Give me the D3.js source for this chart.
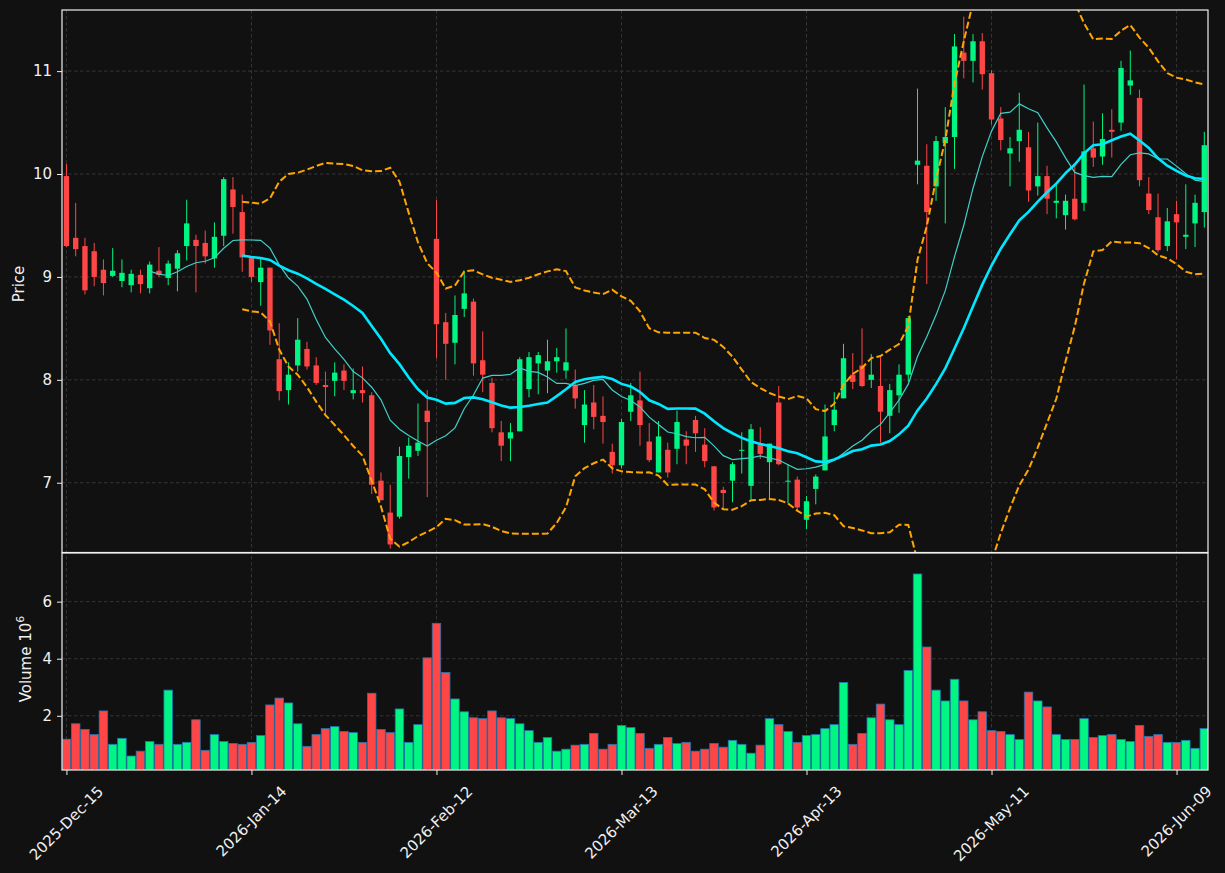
<!DOCTYPE html>
<html>
<head>
<meta charset="utf-8">
<script src="https://cdn.jsdelivr.net/npm/d3@7"></script>
<style>
  body { margin: 0; background: #111111; }
  text { font-family: "DejaVu Sans", sans-serif; }
</style>
</head>
<body>
<svg id="chart" width="1225" height="873"></svg>
<script>
// ticks every 20 trading days
const tickIndex = [0, 20, 40, 60, 80, 100, 120]
const tickLabels = ['2025-Dec-15', '2026-Jan-14', '2026-Feb-12', '2026-Mar-13', '2026-Apr-13', '2026-May-11', '2026-Jun-09']

const opens = [9.98, 9.38, 9.30, 9.25, 9.07, 9.01, 8.96, 8.92, 9.02, 8.89,
  9.06, 8.99, 9.08, 9.30, 9.36, 9.33, 9.18, 9.40, 9.85, 9.63,
  9.19, 8.95, 9.09, 8.20, 7.90, 8.14, 8.30, 8.14, 7.95, 7.99,
  8.09, 7.87, 7.90, 7.85, 7.02, 6.71, 6.67, 7.25, 7.31, 7.70,
  9.37, 8.56, 8.36, 8.69, 8.76, 8.19, 7.97, 7.49, 7.43, 7.50,
  7.91, 8.16, 8.09, 8.18, 8.09, 7.94, 7.56, 7.78, 7.65, 7.30,
  7.17, 7.69, 7.80, 7.40, 7.10, 7.32, 7.33, 7.42, 7.61, 7.37,
  7.16, 6.93, 7.02, 7.31, 6.97, 7.37, 7.20, 7.78, 7.01, 7.03,
  6.64, 6.94, 7.12, 7.56, 7.82, 8.05, 8.14, 8.00, 7.94, 7.65,
  7.85, 8.05, 10.09, 10.08, 9.88, 10.30, 10.36, 11.18, 11.10, 11.29,
  10.98, 10.54, 10.20, 10.32, 10.26, 9.88, 9.98, 9.72, 9.60, 9.76,
  9.72, 10.25, 10.17, 10.43, 10.50, 10.86, 10.74, 9.81, 9.58, 9.30,
  9.61, 9.39, 9.52, 9.63]
const highs = [10.10, 9.72, 9.38, 9.33, 9.17, 9.28, 9.17, 9.07, 9.07, 9.15,
  9.29, 9.16, 9.26, 9.75, 9.41, 9.45, 9.53, 9.97, 9.97, 9.80,
  9.20, 9.18, 9.09, 8.55, 8.17, 8.60, 8.37, 8.22, 8.08, 8.17,
  8.15, 8.11, 8.13, 7.88, 7.10, 6.98, 7.35, 7.44, 7.77, 7.90,
  9.75, 8.65, 8.82, 9.06, 8.79, 8.47, 8.02, 7.60, 7.58, 8.22,
  8.27, 8.27, 8.39, 8.31, 8.50, 8.10, 7.90, 7.95, 7.84, 7.38,
  7.62, 7.97, 8.08, 7.58, 7.60, 7.39, 7.70, 7.50, 7.65, 7.53,
  7.16, 6.96, 7.20, 7.49, 7.57, 7.54, 7.38, 7.94, 7.18, 7.06,
  6.87, 7.08, 7.76, 7.88, 8.35, 8.26, 8.50, 8.25, 8.22, 7.96,
  8.15, 8.62, 10.83, 10.29, 10.37, 10.65, 11.36, 11.53, 11.36, 11.37,
  11.01, 10.65, 10.36, 10.79, 10.41, 10.50, 10.08, 9.90, 9.80, 10.08,
  10.87, 10.51, 10.59, 10.63, 11.10, 11.20, 10.82, 9.97, 9.81, 9.67,
  9.74, 9.90, 9.80, 10.41]
const lows = [9.29, 9.20, 8.83, 8.91, 8.82, 9.00, 8.90, 8.85, 8.84, 8.84,
  9.00, 8.92, 8.86, 9.16, 8.85, 9.13, 9.09, 9.30, 9.42, 9.05,
  8.95, 8.72, 8.34, 7.80, 7.76, 8.08, 8.10, 7.95, 7.67, 7.84,
  7.90, 7.81, 7.78, 6.89, 6.83, 6.36, 6.65, 7.04, 7.26, 6.86,
  8.21, 8.00, 8.15, 8.61, 8.04, 7.88, 7.49, 7.21, 7.21, 7.50,
  7.83, 7.86, 7.87, 8.07, 8.01, 7.72, 7.39, 7.52, 7.38, 7.09,
  7.14, 7.60, 7.36, 7.20, 7.10, 7.05, 7.18, 7.18, 7.30, 7.15,
  6.73, 6.74, 6.81, 7.09, 6.84, 7.23, 6.83, 7.17, 6.80, 6.72,
  6.55, 6.79, 7.12, 7.50, 7.82, 7.91, 7.93, 7.92, 7.39, 7.48,
  7.68, 7.98, 9.90, 8.93, 9.74, 9.52, 10.05, 10.93, 10.89, 10.82,
  10.48, 10.23, 9.88, 10.12, 9.73, 9.79, 9.61, 9.57, 9.46, 9.55,
  9.64, 10.07, 10.09, 10.16, 10.42, 10.77, 9.88, 9.61, 9.24, 9.25,
  9.17, 9.27, 9.29, 9.48]
const closes = [9.30, 9.27, 8.87, 9.00, 8.94, 9.06, 9.04, 9.03, 8.93, 9.12,
  9.02, 9.13, 9.23, 9.52, 9.30, 9.20, 9.39, 9.95, 9.68, 9.19,
  9.00, 9.09, 8.48, 7.89, 8.05, 8.39, 8.13, 7.97, 7.93, 8.07,
  7.99, 7.90, 7.87, 6.98, 6.83, 6.40, 7.26, 7.36, 7.39, 7.59,
  8.54, 8.35, 8.63, 8.84, 8.16, 8.05, 7.53, 7.36, 7.49, 8.20,
  8.22, 8.24, 8.18, 8.22, 8.17, 7.82, 7.76, 7.64, 7.59, 7.17,
  7.59, 7.85, 7.56, 7.22, 7.45, 7.10, 7.59, 7.36, 7.48, 7.21,
  6.76, 6.90, 7.18, 7.32, 7.52, 7.28, 7.38, 7.18, 7.02, 6.76,
  6.82, 7.06, 7.45, 7.71, 8.21, 7.98, 7.94, 8.05, 7.69, 7.90,
  8.05, 8.60, 10.13, 9.63, 10.32, 10.36, 11.24, 11.10, 11.29, 10.97,
  10.53, 10.33, 10.25, 10.43, 9.84, 9.98, 9.76, 9.74, 9.74, 9.56,
  10.22, 10.16, 10.34, 10.41, 11.03, 10.91, 9.94, 9.65, 9.26, 9.54,
  9.53, 9.41, 9.72, 10.28]
// volume in millions
const volumes = [1.18, 1.72, 1.52, 1.34, 2.17, 1.00, 1.21, 0.59, 0.76, 1.10,
  1.00, 2.90, 1.00, 1.07, 1.86, 0.79, 1.34, 1.10, 1.03, 1.00,
  1.07, 1.31, 2.38, 2.62, 2.45, 1.72, 0.93, 1.34, 1.55, 1.62,
  1.45, 1.41, 1.07, 2.79, 1.52, 1.41, 2.24, 1.07, 1.69, 4.03,
  5.24, 3.52, 2.59, 2.14, 1.93, 1.90, 2.17, 1.93, 1.90, 1.72,
  1.48, 1.07, 1.24, 0.76, 0.83, 0.97, 1.00, 1.38, 0.83, 1.00,
  1.66, 1.59, 1.38, 0.86, 1.00, 1.24, 1.03, 1.07, 0.76, 0.83,
  1.03, 0.90, 1.14, 1.00, 0.69, 0.97, 1.90, 1.69, 1.45, 1.07,
  1.31, 1.34, 1.55, 1.69, 3.17, 1.00, 1.38, 1.93, 2.41, 1.86,
  1.69, 3.59, 6.97, 4.41, 2.90, 2.52, 3.28, 2.52, 1.86, 2.14,
  1.48, 1.45, 1.34, 1.17, 2.83, 2.52, 2.31, 1.34, 1.17, 1.17,
  1.90, 1.24, 1.31, 1.34, 1.17, 1.10, 1.66, 1.28, 1.34, 1.07,
  1.07, 1.14, 0.86, 1.55]

const upColor = '#00f582'
const downColor = '#ff4646'
const textColor = '#f0f0f0'
const gridColor = '#3a3a3a'
const fontSize = 15

const svg = d3.select('#chart')
svg.append('rect').attr('width', 1225).attr('height', 873).attr('fill', '#111111')

const left = 62, right = 1208
const priceTop = 10, priceBottom = 552.5
const volTop = 553, volBottom = 770

const n = closes.length
const x = d3.scaleLinear().domain([-0.48, 123.4]).range([left, right])
const step = x(1) - x(0)
const yP = d3.scaleLinear().domain([6.322, 11.594]).range([priceBottom, priceTop])
const yV = d3.scaleLinear().domain([0.1, 7.705]).range([volBottom, volTop])

// rolling indicators from closes
function rolling(period, fn) {
  return closes.map((c, i) => {
    if (i < period - 1) return null
    return fn(closes.slice(i - period + 1, i + 1))
  })
}
const ma10 = rolling(10, w => d3.mean(w))
const ma20 = rolling(20, w => d3.mean(w))
const sd20 = rolling(20, w => {
  let m = d3.mean(w)
  return Math.sqrt(d3.mean(w, v => (v - m) * (v - m)))
})
const upper = ma20.map((m, i) => m === null ? null : m + 2 * sd20[i])
const lower = ma20.map((m, i) => m === null ? null : m - 2 * sd20[i])

let defs = svg.append('defs')
defs.append('clipPath').attr('id', 'clipPrice')
  .append('rect').attr('x', left).attr('y', priceTop)
  .attr('width', right - left).attr('height', priceBottom - priceTop)
defs.append('clipPath').attr('id', 'clipVol')
  .append('rect').attr('x', left).attr('y', volTop)
  .attr('width', right - left).attr('height', volBottom - volTop)

// grid
let grid = svg.append('g').attr('stroke', gridColor).attr('stroke-width', 0.9)
  .attr('stroke-dasharray', '3.5,2.5')
grid.selectAll('line.vx').data(tickIndex).join('line')
  .attr('x1', d => x(d)).attr('x2', d => x(d))
  .attr('y1', priceTop).attr('y2', volBottom)
grid.selectAll('line.hp').data([7, 8, 9, 10, 11]).join('line').attr('class', 'hp')
  .attr('x1', left).attr('x2', right)
  .attr('y1', d => yP(d)).attr('y2', d => yP(d))
grid.selectAll('line.hv').data([2, 4, 6]).join('line').attr('class', 'hv')
  .attr('x1', left).attr('x2', right)
  .attr('y1', d => yV(d)).attr('y2', d => yV(d))

const isUp = i => closes[i] >= opens[i]

// candles
let pricePanel = svg.append('g').attr('clip-path', 'url(#clipPrice)')
let candles = pricePanel.selectAll('g.candle').data(d3.range(n)).join('g')
  .attr('class', 'candle')
candles.append('line')
  .attr('x1', i => x(i)).attr('x2', i => x(i))
  .attr('y1', i => yP(highs[i])).attr('y2', i => yP(lows[i]))
  .attr('stroke', i => isUp(i) ? upColor : downColor)
  .attr('stroke-width', 1)
const bodyW = step * 0.58
candles.append('rect')
  .attr('x', i => x(i) - bodyW / 2)
  .attr('width', bodyW)
  .attr('y', i => yP(Math.max(opens[i], closes[i])))
  .attr('height', i => Math.max(1, Math.abs(yP(opens[i]) - yP(closes[i]))))
  .attr('fill', i => isUp(i) ? upColor : downColor)

// indicator lines
const line = d3.line()
  .defined(d => d[1] !== null)
  .x(d => x(d[0]))
  .y(d => yP(d[1]))
const pts = arr => arr.map((v, i) => [i, v])

pricePanel.append('path').attr('d', line(pts(upper)))
  .attr('fill', 'none').attr('stroke', '#ffa500').attr('stroke-width', 2)
  .attr('stroke-dasharray', '7,3')
pricePanel.append('path').attr('d', line(pts(lower)))
  .attr('fill', 'none').attr('stroke', '#ffa500').attr('stroke-width', 2)
  .attr('stroke-dasharray', '7,3')
pricePanel.append('path').attr('d', line(pts(ma10)))
  .attr('fill', 'none').attr('stroke', '#3fd0c9').attr('stroke-width', 1.2)
pricePanel.append('path').attr('d', line(pts(ma20)))
  .attr('fill', 'none').attr('stroke', '#00e8ff').attr('stroke-width', 2.6)

// volume
const volW = step * 0.92
svg.append('g').attr('clip-path', 'url(#clipVol)')
  .selectAll('rect').data(d3.range(n)).join('rect')
  .attr('x', i => x(i) - volW / 2)
  .attr('width', volW)
  .attr('y', i => yV(volumes[i]))
  .attr('height', i => volBottom - yV(volumes[i]))
  .attr('fill', i => isUp(i) ? upColor : downColor)
  .attr('stroke', '#1f77b4').attr('stroke-width', 0.8)

// spines
svg.append('rect').attr('x', left).attr('y', priceTop)
  .attr('width', right - left).attr('height', priceBottom - priceTop)
  .attr('fill', 'none').attr('stroke', textColor).attr('stroke-width', 1.2)
svg.append('rect').attr('x', left).attr('y', volTop)
  .attr('width', right - left).attr('height', volBottom - volTop)
  .attr('fill', 'none').attr('stroke', textColor).attr('stroke-width', 1.2)

// axes
function styleAxis(g) {
  g.select('.domain').remove()
  g.selectAll('line').attr('stroke', textColor).attr('stroke-width', 1)
  g.selectAll('text').attr('fill', textColor).attr('font-size', fontSize)
    .attr('font-family', 'DejaVu Sans')
}
svg.append('g').attr('transform', `translate(${left},0)`)
  .call(d3.axisLeft(yP).tickValues([7, 8, 9, 10, 11]).tickFormat(d3.format('d')).tickSize(5).tickPadding(5))
  .call(styleAxis)
svg.append('g').attr('transform', `translate(${left},0)`)
  .call(d3.axisLeft(yV).tickValues([2, 4, 6]).tickFormat(d3.format('d')).tickSize(5).tickPadding(5))
  .call(styleAxis)
svg.append('g').attr('transform', `translate(0,${volBottom})`)
  .call(d3.axisBottom(x).tickValues(tickIndex).tickFormat('').tickSize(5))
  .call(styleAxis)

// rotated date labels, bbox centred under the tick
tickIndex.forEach((t, k) => {
  let txt = svg.append('text')
    .attr('font-size', fontSize).attr('fill', textColor)
    .attr('text-anchor', 'middle').attr('dominant-baseline', 'central')
    .text(tickLabels[k])
  let w = txt.node().getComputedTextLength()
  let h = fontSize * 1.1
  let bh = (w + h) * Math.SQRT1_2
  txt.attr('transform', `translate(${x(t)},${783 + bh / 2}) rotate(-45)`)
})

// y labels
svg.append('text')
  .attr('transform', `translate(19,284) rotate(-90)`)
  .attr('text-anchor', 'middle').attr('dominant-baseline', 'central')
  .attr('font-size', fontSize).attr('fill', textColor)
  .text('Price')
let vl = svg.append('text')
  .attr('transform', `translate(26,659) rotate(-90)`)
  .attr('text-anchor', 'middle').attr('dominant-baseline', 'central')
  .attr('font-size', fontSize).attr('fill', textColor)
vl.append('tspan').text('Volume  10')
vl.append('tspan').attr('dy', -6).attr('font-size', 11).text('6')
</script>
</body>
</html>
